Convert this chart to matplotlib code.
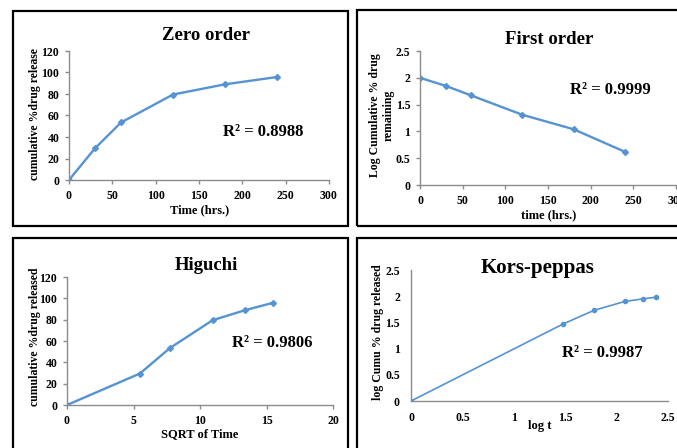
import matplotlib
matplotlib.use("Agg")
import matplotlib.pyplot as plt
from matplotlib.patches import Rectangle

# Dissolution data
time_hrs = [0, 30, 60, 120, 180, 240]
cum_release = [0, 29.5, 53.5, 79.5, 89.0, 95.8]
log_remaining = [2.0, 1.85, 1.67, 1.31, 1.04, 0.62]
sqrt_time = [0, 5.48, 7.75, 10.95, 13.42, 15.49]
log_time = [0, 1.48, 1.78, 2.08, 2.26, 2.38]
log_release = [0, 1.47, 1.73, 1.90, 1.95, 1.98]

W, H = 677, 448
LINE = "#5593d3"
AXIS = "#8c8c8c"
SERIF = ["Liberation Serif", "DejaVu Serif"]

plt.rcParams.update({
    "font.family": SERIF,
    "font.weight": "bold",
})

fig = plt.figure(figsize=(W / 100, H / 100), dpi=100)


def px(x, y):
    return x / W, 1 - y / H


def add_ax(x0, x1, y0, y1):
    """Axes from pixel positions of data origin (x0, y0) and far corner (x1, y1)."""
    l, b = px(x0, y0)
    r, t = px(x1, y1)
    return fig.add_axes([l, b, r - l, t - b])


def style(ax, ticks=True):
    for s in ("top", "right"):
        ax.spines[s].set_visible(False)
    for s in ("left", "bottom"):
        ax.spines[s].set_color(AXIS)
        ax.spines[s].set_linewidth(1.0)
    ax.tick_params(length=3 if ticks else 0, width=1.0, color=AXIS,
                   labelsize=8.5, pad=4 if ticks else 8)
    for lab in ax.get_xticklabels() + ax.get_yticklabels():
        lab.set_fontweight("bold")
    ax.set_facecolor("none")


def ftext(x, y, s, size, rot=0):
    fx, fy = px(x, y)
    fig.text(fx, fy, s, ha="center", va="center", fontsize=size,
             fontweight="bold", rotation=rot, family=SERIF)


# panel borders
for (x0, y0, x1, y1) in [(13, 11, 348, 226), (357, 10, 690, 226),
                         (13, 238, 348, 470), (357, 238, 690, 470)]:
    l, b = px(x0, y1)
    fig.patches.append(Rectangle((l, b), (x1 - x0) / W, (y1 - y0) / H,
                                 transform=fig.transFigure, fill=False,
                                 edgecolor="black", linewidth=1.6))

# Zero order
ax1 = add_ax(69, 329, 180, 51)
ax1.plot(time_hrs, cum_release, color=LINE, lw=1.7, marker="D", ms=3)
ax1.set_xlim(0, 300)
ax1.set_ylim(0, 120)
ax1.set_xticks(range(0, 301, 50))
ax1.set_yticks(range(0, 121, 20))
style(ax1)
ftext(206, 35, "Zero order", 13.5)
ftext(35, 114, "cumulative %drug release", 8.5, rot=90)
ftext(200, 210, "Time (hrs.)", 9)
ftext(263, 132, "R² = 0.8988", 12)

# First order
ax2 = add_ax(420, 676, 185, 51)
ax2.plot(time_hrs, log_remaining, color=LINE, lw=1.7, marker="D", ms=3)
ax2.set_xlim(0, 300)
ax2.set_ylim(0, 2.5)
ax2.set_xticks(range(0, 301, 50))
ax2.set_yticks([0, 0.5, 1, 1.5, 2, 2.5])
ax2.set_yticklabels(["0", "0.5", "1", "1.5", "2", "2.5"])
style(ax2)
ftext(549, 39, "First order", 13.5)
ftext(382, 115, "Log Cumulative % drug\nremaining", 8.5, rot=90)
ftext(549, 215, "time (hrs.)", 9)
ftext(610, 90, "R² = 0.9999", 12)

# Higuchi
ax3 = add_ax(67, 333, 405, 277)
ax3.plot(sqrt_time, cum_release, color=LINE, lw=1.7, marker="D", ms=3)
ax3.set_xlim(0, 20)
ax3.set_ylim(0, 120)
ax3.set_xticks(range(0, 21, 5))
ax3.set_yticks(range(0, 121, 20))
style(ax3)
ftext(206, 265, "Higuchi", 13.5)
ftext(35, 337, "cumulative %drug released", 8.5, rot=90)
ftext(200, 434, "SQRT of Time", 9)
ftext(272, 343, "R² = 0.9806", 12)

# Korsmeyer-Peppas
ax4 = add_ax(411, 668, 401, 270)
ax4.plot(log_time, log_release, color=LINE, lw=1.2, marker="o", ms=3)
ax4.set_xlim(0, 2.5)
ax4.set_ylim(0, 2.5)
ax4.set_xticks([0, 0.5, 1, 1.5, 2, 2.5])
ax4.set_xticklabels(["0", "0.5", "1", "1.5", "2", "2.5"])
ax4.set_yticks([0, 0.5, 1, 1.5, 2, 2.5])
ax4.set_yticklabels(["0", "0.5", "1", "1.5", "2", "2.5"])
style(ax4, ticks=False)
ftext(538, 268, "Kors-peppas", 15)
ftext(378, 332, "log Cumu % drug released", 8.5, rot=90)
ftext(540, 426, "log t", 9)
ftext(602, 353, "R² = 0.9987", 12)

fig.savefig("out.png", dpi=100)
